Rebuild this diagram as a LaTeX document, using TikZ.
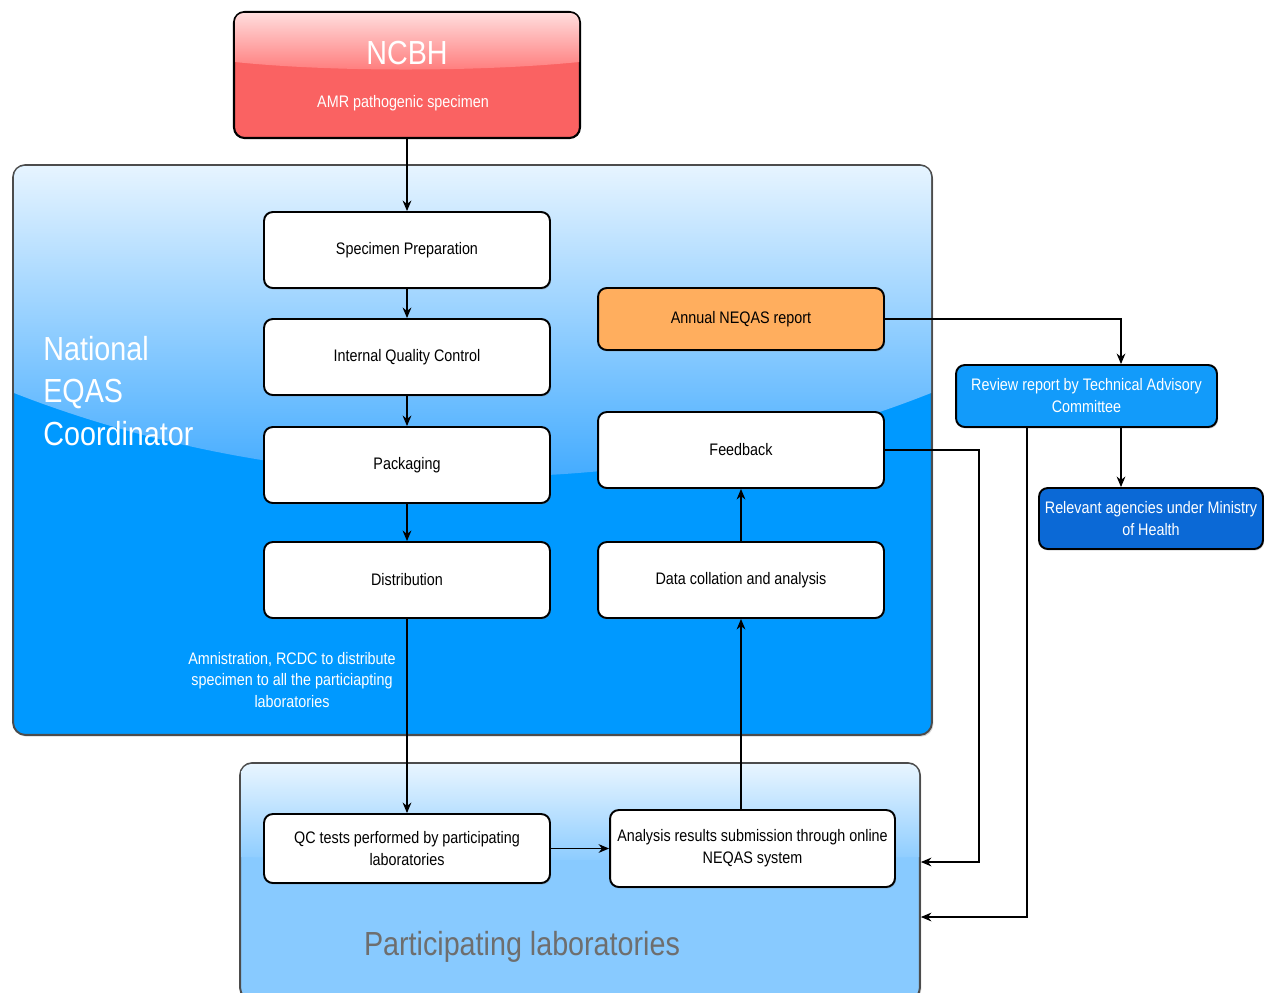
\documentclass[tikz,border=0pt]{standalone}
\usepackage{fontspec}
\setmainfont{Liberation Sans}[FakeStretch=0.86]
\usepackage{xcolor}
\usetikzlibrary{arrows.meta,shadows}
\usetikzlibrary{backgrounds}

\definecolor{ncbhred}{HTML}{FA6262}
\definecolor{ncbhtop}{HTML}{FFDCDC}
\definecolor{ncbhmid}{HTML}{FF7A7A}
\definecolor{eqasblue}{HTML}{0099FF}
\definecolor{eqastop}{HTML}{E6F4FF}
\definecolor{eqasmid}{HTML}{35A5FF}
\definecolor{labsblue}{HTML}{88CAFF}
\definecolor{labstop}{HTML}{E8F5FF}
\definecolor{labsmid}{HTML}{8CCCFF}
\definecolor{annualorange}{HTML}{FFAE5E}
\definecolor{reviewblue}{HTML}{129BFA}
\definecolor{agencyblue}{HTML}{0B69D6}
\definecolor{labsgray}{HTML}{6E6E6E}

\newcommand{\boxfont}{\fontsize{9.5}{12.5}\selectfont}
\newcommand{\bigfont}{\fontsize{19}{24}\selectfont}

\begin{document}
\begin{tikzpicture}[x=0.02cm, y=-0.02cm,
    region/.style={draw=black!70, line width=1.1pt, rounded corners=7pt,
      drop shadow={shadow xshift=0.8pt, shadow yshift=-1pt, opacity=0.3}},
    box/.style={draw, rounded corners=5pt, line width=1.1pt, fill=white,
      align=center, font=\boxfont, minimum width=5.72cm, minimum height=1.52cm,
      drop shadow={shadow xshift=0.6pt, shadow yshift=-0.9pt, opacity=0.3}},
    arr/.style={-{Stealth[length=6pt,width=5pt]}, line width=0.6pt},
  ]
  \useasboundingbox (0,0) rectangle (1265,992);

  % regions
  \node (eqas) [region, fill=eqasblue, minimum width=18.38cm, minimum height=11.4cm] at (472.5,450) {};
  \node (labs) [region, fill=labsblue, minimum width=13.6cm, minimum height=4.74cm] at (580,881.5) {};
  \node (ncbh) [draw, line width=1.2pt, rounded corners=6pt, fill=ncbhred,
    minimum width=6.92cm, minimum height=2.52cm] at (407,75) {};

  % glossy top parts
  \shade[top color=eqastop, bottom color=eqasmid] (14,393) [rounded corners=6pt] -- (14,166)
    -- (931,166) [sharp corners] -- (931,393) .. controls (650,505) and (300,505) .. cycle;
  \shade[top color=labstop, bottom color=labsmid] (241,857) [rounded corners=6pt] -- (241,764)
    -- (919,764) [sharp corners] -- (919,857) .. controls (700,861) and (450,861) .. cycle;
  \shade[top color=ncbhtop, bottom color=ncbhmid] (235,62) [rounded corners=5pt] -- (235,13)
    -- (579,13) [sharp corners] -- (579,62) .. controls (480,72) and (330,72) .. cycle;

  % region texts
  \node (ncbhtitle) [white, font=\fontsize{19}{22}\selectfont] at (407,53) {NCBH};
  \node (ncbhsub) [white, font=\boxfont] at (403,103) {AMR pathogenic specimen};
  \node (eqastitle) [white, font=\bigfont, align=left, anchor=west, inner sep=0pt]
    at (43,391) {National\\EQAS\\Coordinator};
  \node (distnote) [white, font=\boxfont, align=center] at (292,680)
    {Amnistration, RCDC to distribute\\specimen to all the particiapting\\laboratories};
  \node (labstitle) [text=labsgray, font=\bigfont] at (522,947) {Participating laboratories};

  % steps
  \node (prep) [box] at (407,250) {Specimen Preparation};
  \node (iqc) [box] at (407,357) {Internal Quality Control};
  \node (pack) [box] at (407,465) {Packaging};
  \node (dist) [box] at (407,580) {Distribution};
  \node (annual) [box, fill=annualorange, minimum height=1.24cm] at (741,319) {Annual NEQAS report};
  \node (fb) [box] at (741,450) {Feedback};
  \node (data) [box] at (741,580) {Data collation and analysis};
  \node (review) [box, fill=reviewblue, text=white, minimum width=5.22cm, minimum height=1.24cm]
    at (1086.5,396) {Review report by Technical Advisory\\Committee};
  \node (agency) [box, fill=agencyblue, text=white, minimum width=4.48cm, minimum height=1.22cm]
    at (1151,518.5) {Relevant agencies under Ministry\\of Health};
  \node (qc) [box, minimum height=1.38cm] at (407,848.5) {QC tests performed by participating\\laboratories};
  \node (submit) [box, minimum width=5.7cm, minimum height=1.54cm] at (752.5,848.5)
    {Analysis results submission through online\\NEQAS system};

  % bends
  \coordinate (revin) at (1121,0);
  \coordinate (fbbend) at (979,862);
  \coordinate (revbend) at (1027,917);

  % arrows
  \draw[arr] (ncbh) -- (prep);
  \draw[arr] (prep) -- (iqc);
  \draw[arr] (iqc) -- (pack);
  \draw[arr] (pack) -- (dist);
  \draw[arr] (dist) -- (qc);
  \draw[arr] (qc) -- (submit);
  \draw[arr] (submit.north -| data.south) -- (data);
  \draw[arr] (data) -- (fb);
  \draw[arr] (annual.east) -| (review.north -| revin);
  \draw[arr] (review.south -| revin) -- (agency.north -| revin);
  \draw[arr] (fb.east) -| (fbbend) -- (labs.east |- fbbend);
  \draw[arr] (review.south -| revbend) -- (revbend) -- (labs.east |- revbend);
\end{tikzpicture}
\end{document}
